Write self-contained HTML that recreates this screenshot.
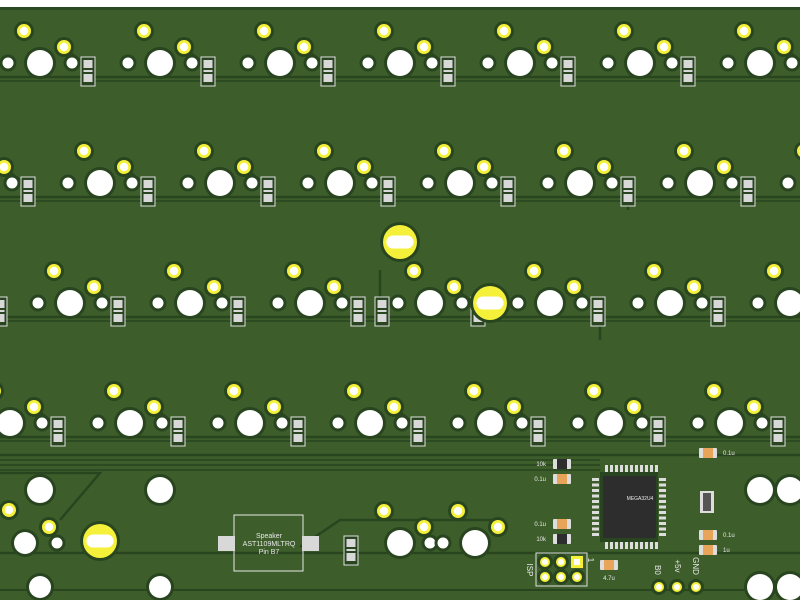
<!DOCTYPE html>
<html><head><meta charset="utf-8"><style>
html,body{margin:0;padding:0;background:#fff;width:800px;height:600px;overflow:hidden}
svg{display:block}
text{font-family:"Liberation Sans",sans-serif;fill:#e8e8e8}
</style></head><body>
<svg id="s" width="800" height="600" xmlns="http://www.w3.org/2000/svg">
<rect x="0" y="0" width="800" height="600" fill="#ffffff"/>
<rect x="0" y="7" width="800" height="593" fill="#3d5e2b"/>
<rect x="0" y="7" width="800" height="3" fill="#2a4a22"/>
<g id="tr" stroke="#28451f" stroke-width="2.5" fill="none"></g>
<g id="pads"></g>
<g id="ic"></g>
</svg>
<script>
const NS="http://www.w3.org/2000/svg";
const tr=document.getElementById('tr'),pads=document.getElementById('pads');
function el(p,t,a){const e=document.createElementNS(NS,t);for(const k in a)e.setAttribute(k,a[k]);p.appendChild(e);return e;}
function line(pts,w){el(tr,'polyline',{points:pts,'stroke-width':w||2.5});}
function white(x,y,r){el(pads,'circle',{cx:x,cy:y,r:r+3,fill:'#28451f'});el(pads,'circle',{cx:x,cy:y,r:r,fill:'#fff'});}
function yel(x,y,r){el(pads,'circle',{cx:x,cy:y,r:r+3,fill:'#28451f'});el(pads,'circle',{cx:x,cy:y,r:r,fill:'#f5f03a'});el(pads,'circle',{cx:x,cy:y,r:r*0.6,fill:'#fff'});}
function led(x,y,r){el(pads,'circle',{cx:x,cy:y,r:r+3,fill:'#28451f'});el(pads,'circle',{cx:x,cy:y,r:r,fill:'#f5f03a'});el(pads,'rect',{x:x-r*0.8,y:y-r*0.38,width:r*1.6,height:r*0.76,rx:r*0.38,fill:'#fff'});}
function diode(x,y){el(pads,'rect',{x:x-7,y:y-14,width:14,height:29,fill:'#28451f',stroke:'#e0e0e0','stroke-width':1});
el(pads,'rect',{x:x-4.5,y:y-11,width:9,height:8,fill:'#d8d8d8'});el(pads,'rect',{x:x-4.5,y:y+3,width:9,height:8,fill:'#d8d8d8'});el(pads,'rect',{x:x-4.5,y:y-1,width:9,height:2,fill:'#d8d8d8'});}
function sw(cx,cy){white(cx,cy,13);white(cx-32,cy,5.5);white(cx+32,cy,5.5);
line(`${cx+24},${cy-16} ${cx+40},${cy-3} ${cx+48},${cy}`,2);
yel(cx-16,cy-32,7);yel(cx+24,cy-16,7);diode(cx+48,cy+8);}
const rows=[[63,[40,160,280,400,520,640,760]],[183,[-20,100,220,340,460,580,700,820]],[303,[-50,70,190,310,430,550,670,790]],[423,[10,130,250,370,490,610,730]]];
for(const [y,xs] of rows){line(`0,${y+14} 800,${y+14}`);line(`0,${y+18} 800,${y+18}`,1.5);}
line('0,455 800,455');line('0,460 600,460',1.5);line('0,465 600,465',1.5);line('0,470 600,470',1.5);
line('0,473 100,473 60,520');line('0,553 800,553');line('0,590 800,590',2);line('300,547 340,520 500,520');
line('380,270 380,300');line('600,310 600,340');line('628,190 628,210');
for(const [y,xs] of rows)for(const x of xs)sw(x,y);
diode(382,311);diode(0,311);
led(400,242,17);led(490,303,17);led(100,541,17);
for(const [x,y] of [[40,490],[160,490],[25,543],[40,587],[160,587],[400,543],[475,543],[760,490],[790,490],[760,587],[790,587]])white(x,y,x==25||x==40&&y==587||x==160&&y==587?11:13);
white(430,543,5.5);white(443,543,5.5);white(57,543,5.5);
yel(9,510,7);yel(49,527,7);yel(384,511,7);yel(424,527,7);yel(458,511,7);yel(498,527,7);
diode(351,550);
el(pads,'rect',{x:234,y:515,width:69,height:56,fill:'none',stroke:'#e8e8e8','stroke-width':1});
el(pads,'rect',{x:218,y:536,width:17,height:15,fill:'#d8d8d8'});el(pads,'rect',{x:302,y:536,width:17,height:15,fill:'#d8d8d8'});
const t=(x,y,s,sz,a)=>{const e=el(pads,'text',{x:x,y:y,'font-size':sz||7,'text-anchor':a||'middle'});e.textContent=s;return e;};
t(269,538,'Speaker');t(269,546,'AST1109MLTRQ');t(269,554,'Pin B7');
el(pads,'rect',{x:600,y:472,width:58,height:70,fill:'#28451f'});
for(let i=0;i<11;i++){el(pads,'rect',{x:605+i*5,y:465,width:3,height:7,fill:'#ddd'});el(pads,'rect',{x:605+i*5,y:542,width:3,height:7,fill:'#ddd'});
el(pads,'rect',{x:592,y:478+i*5.5,width:7,height:3,fill:'#ddd'});el(pads,'rect',{x:659,y:478+i*5.5,width:7,height:3,fill:'#ddd'});}
el(pads,'rect',{x:603,y:476,width:53,height:62,fill:'#2d2d2d',rx:2});
t(640,500,'MEGA32U4',5);
const cap=(x,y,c)=>{el(pads,'rect',{x:x-9,y:y-5,width:18,height:10,fill:'#ddd',rx:1});el(pads,'rect',{x:x-5,y:y-5,width:10,height:10,fill:c});};
cap(562,464,'#2d2d2d');cap(562,479,'#e8a55a');cap(562,524,'#e8a55a');cap(562,539,'#2d2d2d');
cap(708,453,'#e8a55a');cap(708,535,'#e8a55a');cap(708,550,'#e8a55a');cap(609,565,'#e8a55a');
el(pads,'rect',{x:700,y:491,width:14,height:22,fill:'#ddd'});el(pads,'rect',{x:703,y:493,width:8,height:18,fill:'#555'});
t(546,466,'10k',6,'end');t(546,481,'0.1u',6,'end');t(546,526,'0.1u',6,'end');t(546,541,'10k',6,'end');
t(723,455,'0.1u',6,'start');t(723,537,'0.1u',6,'start');t(723,552,'1u',6,'start');t(609,580,'4.7u',6);
el(pads,'rect',{x:536,y:553,width:51,height:33,fill:'none',stroke:'#e0e0e0'});
for(const [x,y] of [[545,562],[561,562],[545,577],[561,577],[577,577]])yel(x,y,5);
el(pads,'rect',{x:571,y:556,width:12,height:12,fill:'#f5f03a'});el(pads,'rect',{x:574,y:559,width:6,height:6,fill:'#fff'});
const vt=(x,y,s)=>{const e=t(x,y,s,8);e.setAttribute('transform',`rotate(90 ${x} ${y})`);};
vt(527,570,'ISP');vt(588,560,'1');vt(655,570,'B0');vt(675,566,'+5v');vt(693,566,'GND');
yel(659,587,5);yel(677,587,5);yel(696,587,5);
</script>
</body></html>
